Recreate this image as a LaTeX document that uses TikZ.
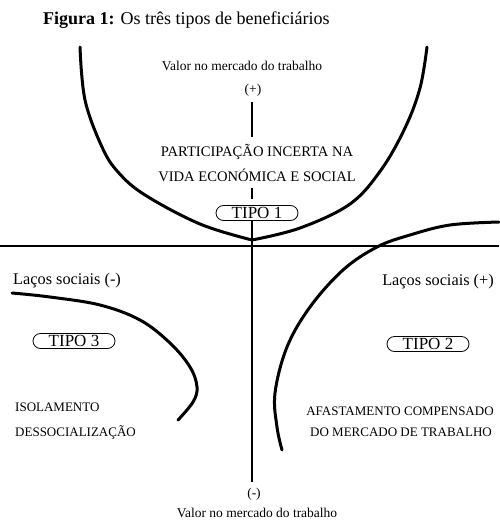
\documentclass[tikz,border=0pt]{standalone}
\usepackage{fontspec}
\setmainfont{Liberation Serif}
\usetikzlibrary{shapes.misc}
\begin{document}
\begin{tikzpicture}[x=1pt,y=-1pt,
  axis/.style={line width=2.8pt},
  curve/.style={line width=3pt, line cap=round},
  tipo/.style={draw, rounded rectangle, line width=0.8pt, minimum width=82pt, minimum height=15pt, inner sep=0pt, font=\fontsize{17}{17}\selectfont},
  lbl/.style={font=\fontsize{13.5}{13.5}\selectfont, inner sep=0pt},
  capsbig/.style={font=\fontsize{14.6}{14.6}\selectfont, inner sep=0pt},
  caps/.style={font=\fontsize{13}{13}\selectfont, inner sep=0pt},
  lacos/.style={font=\fontsize{16.3}{16.3}\selectfont, inner sep=0pt}
]
\useasboundingbox (0,0) rectangle (499,520);
\fill[white] (0,0) rectangle (499,520);

\node[anchor=west, inner sep=0pt, font=\fontsize{18}{18}\selectfont] (title) at (43,20) {\textbf{Figura 1:} Os três tipos de beneficiários};

\node[lbl] (vtop) at (242,66) {Valor no mercado do trabalho};
\node[lbl] (plus) at (253,90) {(+)};
\node[capsbig] (part1) at (257,152) {PARTICIPAÇÃO INCERTA NA};
\node[capsbig] (part2) at (257,175) {VIDA ECONÓMICA E SOCIAL};
\node[tipo] (tipo1) at (257,213) {TIPO 1};

\node[lacos, anchor=west] (lacm) at (13,281) {Laços sociais (-)};
\node[tipo] (tipo3) at (74,341) {TIPO 3};
\node[caps, anchor=west] (iso) at (15,407) {ISOLAMENTO};
\node[caps, anchor=west] (desso) at (15,432) {DESSOCIALIZAÇÃO};

\node[lacos] (lacp) at (438,282) {Laços sociais (+)};
\node[tipo] (tipo2) at (428,344) {TIPO 2};
\node[caps] (afast) at (400,411) {AFASTAMENTO COMPENSADO};
\node[caps] (domerc) at (401,432) {DO MERCADO DE TRABALHO};

\node[lbl] (minus) at (254,494) {(-)};
\node[lbl, anchor=base] (vbot) at (257,517) {Valor no mercado do trabalho};

% axes
\coordinate (va) at (252,102);
\coordinate (vb) at (252,137);
\coordinate (vc) at (252,188);
\coordinate (vd) at (252,199);
\coordinate (ve) at (252,221);
\coordinate (vf) at (252,482);
\coordinate (hl) at (0,246);
\coordinate (hr) at (499,246);
\draw[axis] (va) -- (vb);
\draw[axis] (vc) -- (vd);
\draw[axis] (ve) -- (vf);
\draw[axis] (hl) -- (hr);

% U curve (type 1)
\draw[curve] plot[smooth, tension=0.6] coordinates {(80,47) (85,100) (102,147) (118,172) (145,195) (200,224) (252,240)};
\draw[curve] plot[smooth, tension=0.6] coordinates {(252,240) (300,228) (350,204) (381,170) (405,128) (420,88) (427,47)};

% type 2 curve
\draw[curve] plot[smooth, tension=0.6] coordinates {(499,222) (450,225) (410,235) (377,247) (343,270) (310,307) (287,347) (275,393) (277,427) (282,450)};

% type 3 curve
\draw[curve] plot[smooth, tension=0.6] coordinates {(12,293) (50,297) (100,305) (140,320) (170,343) (190,367) (197,387) (193,402) (178,420)};
\end{tikzpicture}
\end{document}
